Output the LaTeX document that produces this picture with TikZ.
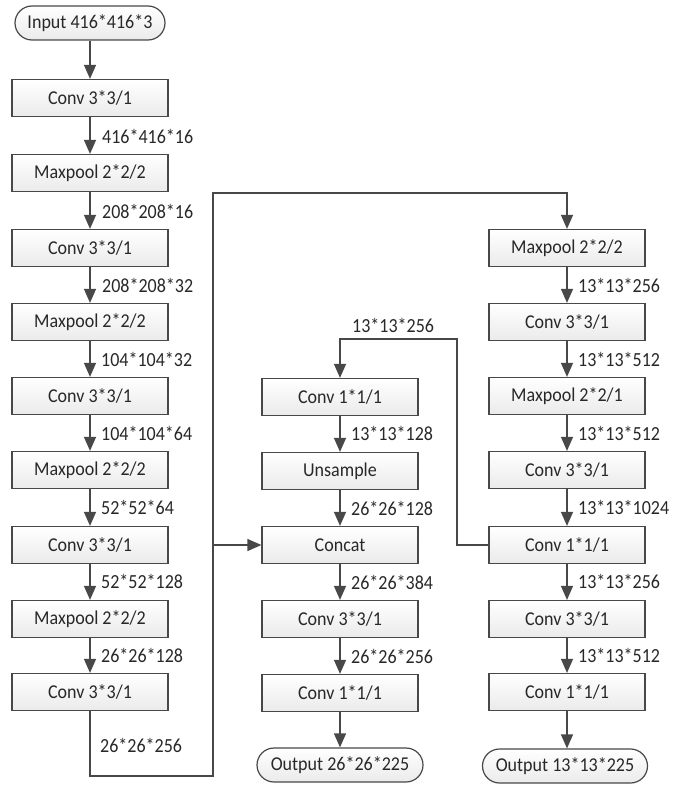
\documentclass[tikz,border=0pt]{standalone}
\usepackage{fontspec}
\setmainfont{Carlito}
\newfontfamily\boxfont{Carlito}[FakeStretch=0.92]
\newfontfamily\labfont{Carlito}[FakeStretch=0.9]
\usetikzlibrary{arrows.meta}
\definecolor{lncol}{RGB}{72,72,72}
\definecolor{txcol}{RGB}{40,40,40}
\begin{document}
\begin{tikzpicture}[x=1pt,y=-1pt,
  blk/.style={draw=lncol, line width=1.2pt, top color=white, bottom color=gray!16,
    minimum width=156pt, minimum height=37pt, inner sep=0pt,
    font=\boxfont\fontsize{19.6}{22}\selectfont, text=txcol},
  term/.style={blk, rounded corners=17pt, minimum height=34pt},
  lab/.style={anchor=west, inner sep=0pt, font=\labfont\fontsize{20}{23}\selectfont, text=txcol},
  arr/.style={draw=lncol, line width=1.3pt, line join=miter, -{Triangle[length=14pt,width=12pt]}}
]
\useasboundingbox (0,0) rectangle (679,792);
% left column
\node[term, minimum width=150pt] (in) at (90,23) {Input 416*416*3};
\node[blk] (l1) at (90,98) {Conv 3*3/1};
\node[blk] (l2) at (90,173) {Maxpool 2*2/2};
\node[blk] (l3) at (90,248) {Conv 3*3/1};
\node[blk] (l4) at (90,322) {Maxpool 2*2/2};
\node[blk] (l5) at (90,396) {Conv 3*3/1};
\node[blk] (l6) at (90,470) {Maxpool 2*2/2};
\node[blk] (l7) at (90,545) {Conv 3*3/1};
\node[blk] (l8) at (90,619) {Maxpool 2*2/2};
\node[blk] (l9) at (90,692) {Conv 3*3/1};
\draw[arr] (in) -- (l1);
\draw[arr] (l1) -- (l2);
\draw[arr] (l2) -- (l3);
\draw[arr] (l3) -- (l4);
\draw[arr] (l4) -- (l5);
\draw[arr] (l5) -- (l6);
\draw[arr] (l6) -- (l7);
\draw[arr] (l7) -- (l8);
\draw[arr] (l8) -- (l9);
\node[lab] (a1) at (102,136) {416*416*16};
\node[lab] (a2) at (102,211) {208*208*16};
\node[lab] (a3) at (102,285) {208*208*32};
\node[lab] (a4) at (101,359) {104*104*32};
\node[lab] (a5) at (101,433) {104*104*64};
\node[lab] (a6) at (101,507) {52*52*64};
\node[lab] (a7) at (101,581) {52*52*128};
\node[lab] (a8) at (101,655) {26*26*128};
\node[lab] (a9) at (100,745) {26*26*256};
% right column
\node[blk] (r1) at (567,248) {Maxpool 2*2/2};
\node[blk] (r2) at (567,322) {Conv 3*3/1};
\node[blk] (r3) at (567,396) {Maxpool 2*2/1};
\node[blk] (r4) at (567,470) {Conv 3*3/1};
\node[blk] (r5) at (567,545) {Conv 1*1/1};
\node[blk] (r6) at (567,619) {Conv 3*3/1};
\node[blk] (r7) at (567,692) {Conv 1*1/1};
\node[term, minimum width=165pt] (ro) at (565,766) {Output 13*13*225};
\draw[arr] (r1) -- (r2);
\draw[arr] (r2) -- (r3);
\draw[arr] (r3) -- (r4);
\draw[arr] (r4) -- (r5);
\draw[arr] (r5) -- (r6);
\draw[arr] (r6) -- (r7);
\draw[arr] (r7.south) -- (ro.north -| r7.south);
\node[lab] (b1) at (578,285) {13*13*256};
\node[lab] (b2) at (578,359) {13*13*512};
\node[lab] (b3) at (578,433) {13*13*512};
\node[lab] (b4) at (578,507) {13*13*1024};
\node[lab] (b5) at (578,581) {13*13*256};
\node[lab] (b6) at (578,655) {13*13*512};
% middle column
\node[blk] (m1) at (340,397) {Conv 1*1/1};
\node[blk] (m2) at (340,471) {Unsample};
\node[blk] (m3) at (340,545) {Concat};
\node[blk] (m4) at (340,619) {Conv 3*3/1};
\node[blk] (m5) at (340,693) {Conv 1*1/1};
\node[term, minimum width=166pt] (mo) at (340,765) {Output 26*26*225};
\draw[arr] (m1) -- (m2);
\draw[arr] (m2) -- (m3);
\draw[arr] (m3) -- (m4);
\draw[arr] (m4) -- (m5);
\draw[arr] (m5) -- (mo);
\node[lab] (c0) at (352,325) {13*13*256};
\node[lab] (c1) at (351,433) {13*13*128};
\node[lab] (c2) at (351,508) {26*26*128};
\node[lab] (c3) at (351,582) {26*26*384};
\node[lab] (c4) at (351,656) {26*26*256};
% loops
\coordinate (bl) at (213,776);
\coordinate (tr) at (567,193);
\coordinate (jn) at (213,545);
\draw[arr] (l9.south) |- (bl) |- (tr) -- (r1.north);
\draw[arr] (jn) -- (m3.west);
\coordinate (k1) at (457,545);
\coordinate (k2) at (340,339);
\draw[arr] (r5.west) -- (k1) |- (k2) -- (m1.north);
\end{tikzpicture}
\end{document}
